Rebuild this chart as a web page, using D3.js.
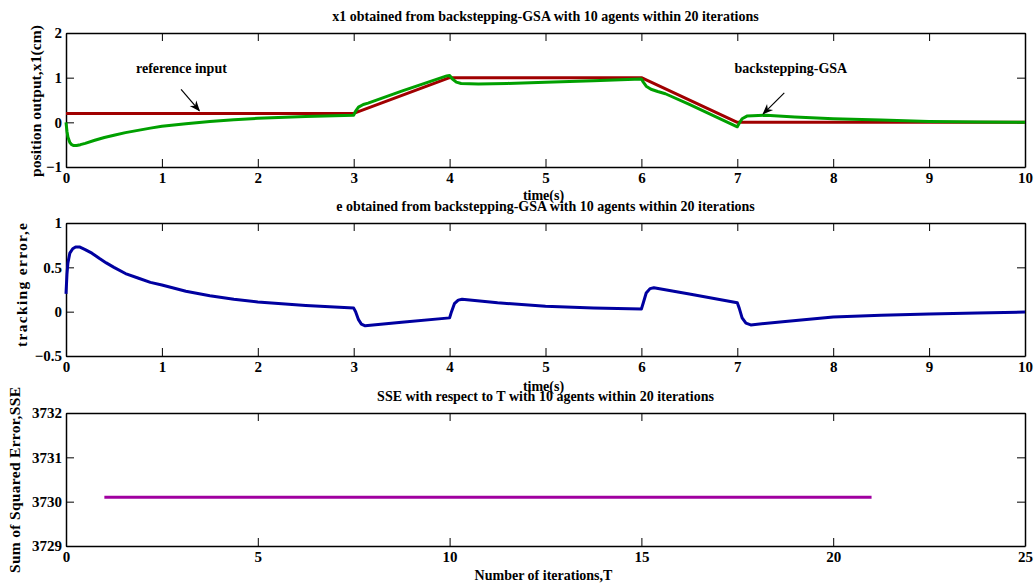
<!DOCTYPE html>
<html>
<head>
<meta charset="utf-8">
<script src="https://cdn.jsdelivr.net/npm/d3@7"></script>
<style>
  body { margin: 0; background: #fff; }
  svg { font-family: "Liberation Serif", "Times New Roman", serif; font-weight: bold; }
  .axis path, .axis line { stroke: #000; }
  .axis text { font-size: 15px; font-weight: bold; fill: #000; font-family: "Liberation Serif", serif; }
  .ttl { font-size: 14px; }
  .lbl { font-size: 14px; }
  .ylbl { font-size: 15.5px; }
</style>
</head>
<body>
<svg width="1036" height="586"></svg>
<script>
// reference input x1 (piecewise)
var refT = [0, 3, 4, 6, 7, 10];
var refX = [0.2, 0.2, 1, 1, 0, 0];

// backstepping-GSA output x1
var gsaT = [0, 0.01, 0.02, 0.04, 0.06, 0.08, 0.11, 0.15, 0.2, 0.3, 0.4, 0.5, 0.62, 0.75, 0.88, 1.0, 1.25, 1.5, 1.75, 2.0, 2.5, 3.0,
            3.02, 3.05, 3.1, 3.15, 3.5, 3.97, 4.0, 4.03, 4.07, 4.12, 4.3, 4.6, 5.0, 5.5, 6.0,
            6.02, 6.05, 6.1, 6.17, 6.25, 6.5, 6.75, 7.0, 7.02, 7.05, 7.1, 7.3, 7.6, 8.0, 8.5, 9.0, 9.5, 10];
var gsaX = [0, -0.2, -0.33, -0.45, -0.5, -0.52, -0.52, -0.5, -0.47, -0.4, -0.34, -0.29, -0.23, -0.18, -0.13, -0.09, -0.03, 0.02, 0.06, 0.09, 0.13, 0.16,
            0.25, 0.34, 0.4, 0.43, 0.7, 1.04, 1.05, 0.97, 0.9, 0.87, 0.86, 0.87, 0.9, 0.93, 0.97,
            0.9, 0.81, 0.74, 0.69, 0.64, 0.4, 0.15, -0.1, -0.02, 0.08, 0.14, 0.16, 0.12, 0.08, 0.05, 0.02, 0.01, 0.0];

// tracking error e
var errT = [0, 0.01, 0.02, 0.04, 0.07, 0.1, 0.14, 0.2, 0.27, 0.35, 0.42, 0.5, 0.62, 0.75, 0.88, 1.0, 1.25, 1.5, 1.75, 2.0, 2.5, 3.0,
            3.02, 3.05, 3.08, 3.12, 3.5, 4.0, 4.02, 4.05, 4.09, 4.13, 4.5, 5.0, 5.5, 6.0,
            6.02, 6.05, 6.09, 6.13, 6.5, 7.0, 7.02, 7.05, 7.09, 7.14, 7.5, 8.0, 8.5, 9.0, 9.5, 10];
var errE = [0.2, 0.42, 0.55, 0.66, 0.71, 0.73, 0.73, 0.7, 0.66, 0.6, 0.55, 0.5, 0.43, 0.38, 0.33, 0.3, 0.23, 0.18, 0.14, 0.11, 0.07, 0.04,
            0.0, -0.09, -0.14, -0.16, -0.12, -0.07, 0.0, 0.09, 0.13, 0.14, 0.1, 0.06, 0.04, 0.03,
            0.1, 0.21, 0.26, 0.27, 0.2, 0.1, 0.04, -0.07, -0.13, -0.15, -0.11, -0.06, -0.04, -0.025, -0.015, -0.005];

// SSE per iteration
var iterT = [1, 2, 3, 4, 5, 6, 7, 8, 9, 10, 11, 12, 13, 14, 15, 16, 17, 18, 19, 20, 21];
var sse = [3730.1, 3730.1, 3730.1, 3730.1, 3730.1, 3730.1, 3730.1, 3730.1, 3730.1, 3730.1, 3730.1,
           3730.1, 3730.1, 3730.1, 3730.1, 3730.1, 3730.1, 3730.1, 3730.1, 3730.1, 3730.1];

var titles = ["x1 obtained from backstepping-GSA with 10 agents within 20 iterations",
              "e obtained from backstepping-GSA with 10 agents within 20 iterations",
              "SSE with respect to T with 10 agents within 20 iterations"];

var svg = d3.select("svg");
var LEFT = 66, RIGHT = 1025;
var TICK = 8;

function panel(top, bottom, xdom, xticks, ydom, yticks, title, ylabel, ylab, xlabel, xlabelY, fmtY) {
    var x = d3.scaleLinear().domain(xdom).range([LEFT, RIGHT]);
    var y = d3.scaleLinear().domain(ydom).range([bottom, top]);
    var g = svg.append("g");

    g.append("g").attr("class", "axis")
        .attr("transform", "translate(0," + bottom + ")")
        .call(d3.axisBottom(x).tickValues(xticks).tickSizeInner(-TICK).tickSizeOuter(0).tickPadding(5).tickFormat(d3.format("d")))
        .selectAll(".tick text").attr("dy", "0.75em");
    g.append("g").attr("class", "axis")
        .attr("transform", "translate(0," + top + ")")
        .call(d3.axisTop(x).tickValues(xticks).tickSizeInner(-TICK).tickSizeOuter(0).tickFormat(""));
    g.append("g").attr("class", "axis")
        .attr("transform", "translate(" + LEFT + ",0)")
        .call(d3.axisLeft(y).tickValues(yticks).tickSizeInner(-TICK).tickSizeOuter(0).tickPadding(4).tickFormat(fmtY));
    g.append("g").attr("class", "axis")
        .attr("transform", "translate(" + RIGHT + ",0)")
        .call(d3.axisRight(y).tickValues(yticks).tickSizeInner(-TICK).tickSizeOuter(0).tickFormat(""));
    g.selectAll(".axis path").attr("stroke-width", 1.5);

    g.append("text").attr("class", "ttl")
        .attr("x", (LEFT + RIGHT) / 2).attr("y", top - 12)
        .attr("text-anchor", "middle").text(title);
    g.append("text").attr("class", "ylbl")
        .attr("transform", "translate(" + ylab.x + "," + ylab.c + ") rotate(-90)")
        .attr("text-anchor", "middle")
        .attr("textLength", ylab.len).attr("lengthAdjust", "spacing")
        .text(ylabel);
    g.append("text").attr("class", "lbl")
        .attr("x", (LEFT + RIGHT) / 2 - 2).attr("y", xlabelY)
        .attr("text-anchor", "middle").text(xlabel);
    return {x: x, y: y, g: g};
}

function drawLine(p, xs, ys, color) {
    var pts = xs.map(function(t, i) { return [t, ys[i]]; });
    var line = d3.line()
        .x(function(d) { return p.x(d[0]); })
        .y(function(d) { return p.y(d[1]); });
    p.g.append("path").datum(pts)
        .attr("d", line)
        .attr("fill", "none")
        .attr("stroke", color)
        .attr("stroke-width", 3)
        .attr("stroke-linejoin", "round");
}

svg.append("defs").append("marker")
    .attr("id", "arr").attr("viewBox", "0 0 10 10")
    .attr("refX", 9).attr("refY", 5)
    .attr("markerWidth", 9).attr("markerHeight", 9)
    .attr("orient", "auto")
  .append("path").attr("d", "M0,1 L10,5 L0,9 L3,5 Z").attr("fill", "#000");

// panel 1
var p1 = panel(33, 167, [0, 10], d3.range(0, 11), [-1, 2], [-1, 0, 1, 2],
    titles[0], "position output,x1(cm)", {x: 41, c: 101, len: 152}, "time(s)", 200, d3.format("d"));
drawLine(p1, refT, refX, "#a00000");
drawLine(p1, gsaT, gsaX, "#00a000");

var notes = [
    {text: "reference input", tx: 0.73, ty: 1.1, ax: [1.2, 0.74], bx: [1.39, 0.26]},
    {text: "backstepping-GSA", tx: 6.97, ty: 1.1, ax: [7.49, 0.66], bx: [7.27, 0.19]}
];
notes.forEach(function(n) {
    p1.g.append("text").attr("class", "lbl")
        .attr("x", p1.x(n.tx)).attr("y", p1.y(n.ty)).text(n.text);
    p1.g.append("line")
        .attr("x1", p1.x(n.ax[0])).attr("y1", p1.y(n.ax[1]))
        .attr("x2", p1.x(n.bx[0])).attr("y2", p1.y(n.bx[1]))
        .attr("stroke", "#000").attr("stroke-width", 1.2)
        .attr("marker-end", "url(#arr)");
});

// panel 2
var p2 = panel(223, 356, [0, 10], d3.range(0, 11), [-0.5, 1], [-0.5, 0, 0.5, 1],
    titles[1], "tracking error,e", {x: 27, c: 285, len: 124}, "time(s)", 391, d3.format("~g"));
drawLine(p2, errT, errE, "#0000a0");

// panel 3
var p3 = panel(413, 546, [0, 25], [0, 5, 10, 15, 20, 25], [3729, 3732], [3729, 3730, 3731, 3732],
    titles[2], "Sum of Squared Error,SSE", {x: 20, c: 480, len: 186}, "Number of iterations,T", 580, d3.format("d"));
drawLine(p3, iterT, sse, "#a000a0");
</script>
</body>
</html>
